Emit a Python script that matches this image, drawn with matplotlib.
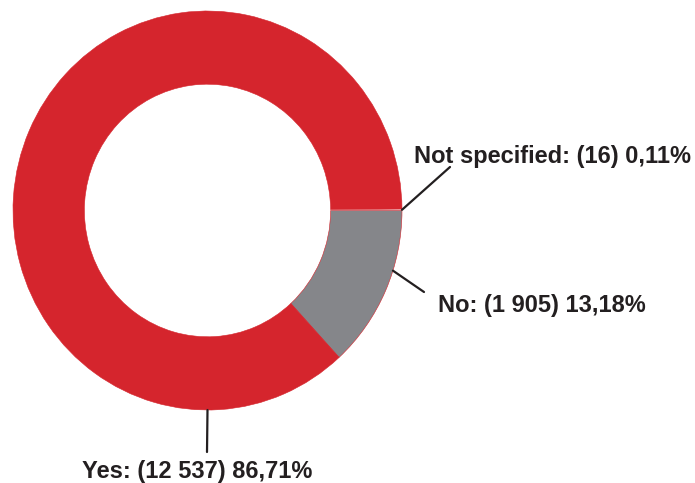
import numpy as np
import matplotlib
matplotlib.use("Agg")
import matplotlib.pyplot as plt

# Survey answers
categories = ["Not specified", "No", "Yes"]
counts = [16, 1905, 12537]
percent_labels = ["0,11%", "13,18%", "86,71%"]
count_labels = ["16", "1 905", "12 537"]

colors = ["#FFFFFF", "#85868A", "#D5252D"]
text_color = "#231F20"

W, H = 695, 483
fig = plt.figure(figsize=(W / 100, H / 100), dpi=100)
plt.rcParams["font.family"] = ["Liberation Sans", "DejaVu Sans"]

# Ring occupies a box in pixel units (left, top, width, height)
bx, by, bw, bh = 13, 11, 389, 399
ax = fig.add_axes([bx / W, 1 - (by + bh) / H, bw / W, bh / H])

total = sum(counts)
start = 360 * counts[0] / total
wedges, _ = ax.pie(counts, colors=colors, startangle=start, counterclock=False,
                   radius=1, wedgeprops=dict(width=0.367, linewidth=0.4,
                                             edgecolor="#D5252D"))
wedges[0].set_edgecolor("white")
wedges[0].set_linewidth(0.8)
ax.set_aspect("auto")
ax.set_xlim(-1, 1)
ax.set_ylim(-1, 1)
ax.axis("off")

# Leader anchors on the ring (fraction across wedge), line end and text spot (px from top-left)
layout = {
    "Not specified": dict(frac=0.5, end=(450, 167), text=(414, 163)),
    "No": dict(frac=0.37, end=(424, 292), text=(438, 312)),
    "Yes": dict(frac=None, end=(207, 452), text=(82, 478)),
}

for w, cat, c, p in zip(wedges, categories, count_labels, percent_labels):
    lay = layout[cat]
    if lay["frac"] is None:
        ang = -90.0
    else:
        ang = w.theta2 - lay["frac"] * (w.theta2 - w.theta1)
    a = np.deg2rad(ang)
    anchor = (np.cos(a), np.sin(a))
    ex, ey = lay["end"]
    ax.annotate("", xy=anchor, xycoords="data",
                xytext=(ex, H - ey), textcoords="figure pixels",
                arrowprops=dict(arrowstyle="-", color=text_color, lw=1.6,
                                shrinkA=0, shrinkB=0),
                annotation_clip=False)
    tx, ty = lay["text"]
    fig.text(tx / W, 1 - ty / H, f"{cat}: ({c}) {p}", fontsize=17,
             fontweight="bold", color=text_color, ha="left", va="baseline")

fig.savefig("out.png", dpi=100, facecolor="white")
